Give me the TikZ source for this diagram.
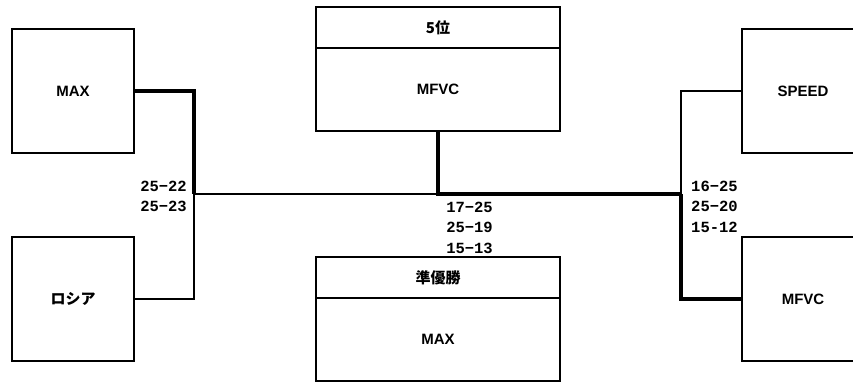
\documentclass[tikz,border=0pt]{standalone}
\usepackage{fontspec}
\setmainfont{Liberation Sans}
\newfontfamily\jpfont{Noto Sans CJK JP}
\newfontfamily\scorefont{Liberation Mono}
\usepackage{tikz}
\usetikzlibrary{positioning}
\tikzstyle{team} = [rectangle, draw, line width=1.8pt, minimum width=122pt,
    minimum height=124pt, font=\fontsize{15}{17}\selectfont\bfseries]
\tikzstyle{hd} = [rectangle, draw, line width=1.8pt, outer sep=0pt, minimum width=244pt,
    minimum height=41pt, font=\fontsize{15}{17}\selectfont\jpfont\bfseries]
\tikzstyle{bd} = [rectangle, draw, line width=1.8pt, outer sep=0pt, minimum width=244pt,
    minimum height=83pt, font=\fontsize{15}{17}\selectfont\bfseries]
\tikzstyle{res} = [inner sep=0pt, font=\fontsize{15.5}{20.5}\selectfont\scorefont\bfseries]
\tikzstyle{win} = [line width=3.6pt]
\tikzstyle{lose} = [line width=1.5pt]
\newcommand{\jp}[1]{{\jpfont #1}}

\begin{document}
\begin{tikzpicture}[x=1pt,y=1pt,node distance=208pt]
  \useasboundingbox (0,0) rectangle (853,382);
  \clip (0,0) rectangle (853,382);
  \node[team] (max)               at (73,291)  {MAX};
  \node[team] (rus) [below of=max]             {\jp{ロシア}};
  \node[team] (spd)               at (803,291) {SPEED};
  \node[team] (mfr) [below of=spd]             {MFVC};
  \node[hd]   (h5)                at (438,354.5) {5位};
  \node[bd]   (b5)  [below=0pt of h5]          {MFVC};
  \node[hd]   (h2)                at (438,104.5) {準優勝};
  \node[bd]   (b2)  [below=0pt of h2]          {MAX};

  \coordinate (jl) at (194,188);
  \coordinate (jr) at (681,188);
  \draw[win]  (max.east) -| (jl);
  \draw[lose] (rus.east) -| (jl) -- (b5.south |- jl);
  \draw[win]  (b5.south) |- (jr);
  \draw[lose] (spd.west) -| (jr);
  \draw[win]  (mfr.west) -| (jr);

  \node[res, align=right, left=7pt of jl, yshift=-2.5pt] (s1) {25−22\\25−23};
  \node[res, align=center] (s2) at (469.5,154.5) {17−25\\25−19\\15−13};
  \node[res, align=left, right=10pt of jr, yshift=-12.5pt] (s3) {16−25\\25−20\\15-12};
\end{tikzpicture}
\end{document}
